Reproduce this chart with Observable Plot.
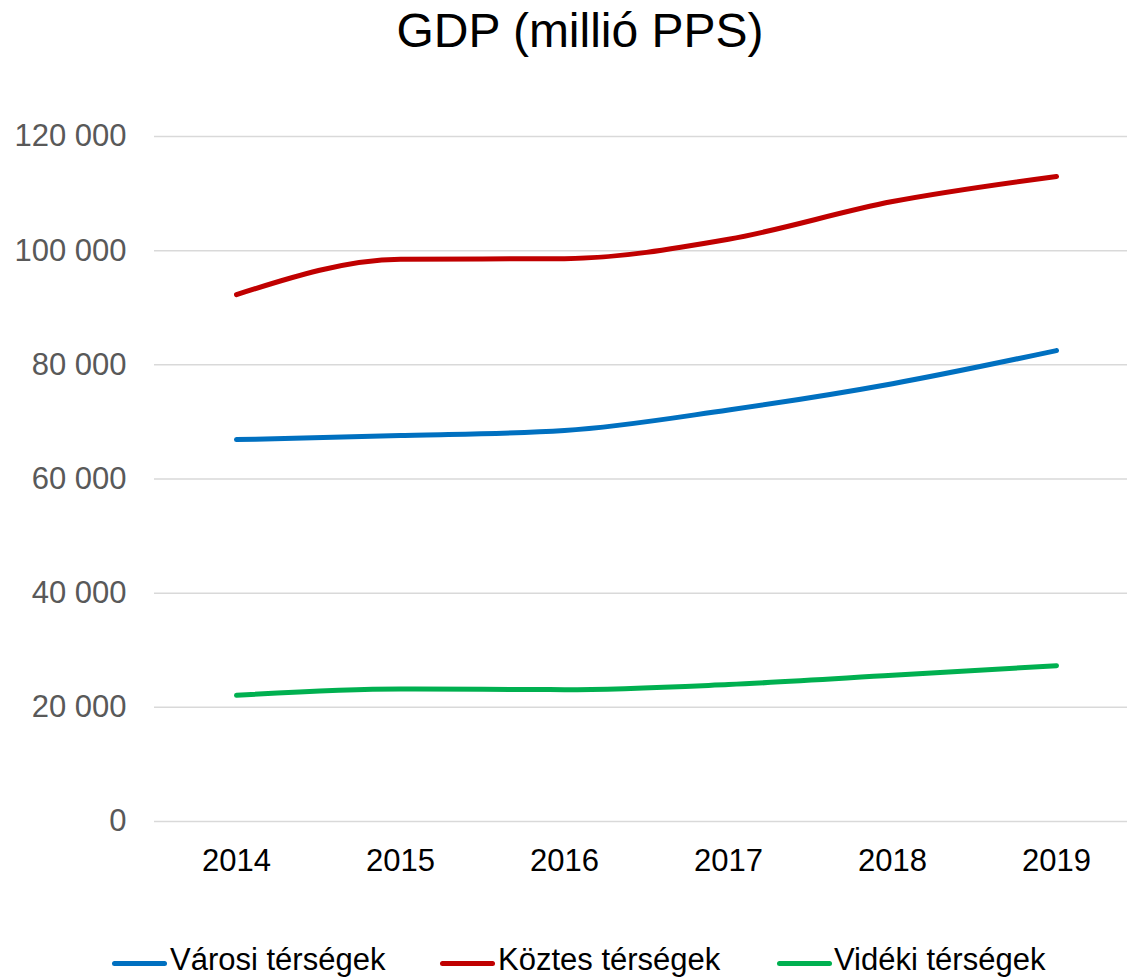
<!DOCTYPE html>
<html>
<head>
<meta charset="utf-8">
<script src="https://cdn.jsdelivr.net/npm/d3@7"></script>
<script src="https://cdn.jsdelivr.net/npm/@observablehq/plot@0.6"></script>
<style>
  html, body { margin: 0; padding: 0; background: #fff; }
  body { width: 1127px; height: 980px; position: relative; overflow: hidden; font-family: "Liberation Sans", Arial, sans-serif; }
  #title { position: absolute; left: 0; top: 7px; width: 1127px; text-align: center; padding-left: 33px; box-sizing: border-box; font-size: 48px; line-height: 47px; color: #000; }
  #chart { position: absolute; left: 0; top: 90px; }
  .leg { position: absolute; top: 940px; font-size: 31px; line-height: 40px; color: #000; white-space: nowrap; }
  .sw { position: absolute; height: 5px; border-radius: 3px; top: 961px; }
</style>
</head>
<body>
<div id="title">GDP (millió PPS)</div>
<div id="chart"></div>
<div id="legend"></div>
<script>
const years = ["2014", "2015", "2016", "2017", "2018", "2019"];
const seriesNames = ["Városi térségek", "Köztes térségek", "Vidéki térségek"];
const varosi = [66900, 67600, 68500, 72100, 76700, 82500];
const koztes = [92300, 98500, 98600, 102000, 108600, 113000];
const videki = [22100, 23200, 23100, 24000, 25600, 27300];
const colors = ["#0070C0", "#C00000", "#00B050"];
const yTicks = [0, 20000, 40000, 60000, 80000, 100000, 120000];

const allSeries = [varosi, koztes, videki];
const data = [];
seriesNames.forEach((name, si) => {
  years.forEach((yr, i) => data.push({ year: yr, value: allSeries[si][i], series: name }));
});

const fmt = d => d3.format(",")(d).replace(/,/g, " ");

const chart = Plot.plot({
  width: 1127,
  height: 810,
  marginLeft: 154,
  marginRight: 0,
  marginTop: 46,
  marginBottom: 79,
  style: { fontFamily: "Liberation Sans, Arial, sans-serif", background: "#fff" },
  x: { type: "point", domain: years, range: [236, 1056], padding: 0, label: null },
  y: { domain: [0, 120000], ticks: yTicks, label: null },
  color: { domain: seriesNames, range: colors },
  marks: [
    Plot.ruleY(yTicks, { stroke: "#d9d9d9", strokeWidth: 1.5 }),
    Plot.axisY({ ticks: yTicks, tickSize: 0, tickPadding: 28, tickFormat: fmt, fontSize: 31, fill: "#595959", label: null }),
    Plot.axisX({ tickSize: 0, tickPadding: 27, fontSize: 31, fill: "#000", label: null }),
    Plot.line(data, { x: "year", y: "value", z: "series", stroke: "series", strokeWidth: 5, curve: "monotone-x", strokeLinecap: "round", strokeLinejoin: "round" })
  ]
});
document.getElementById("chart").appendChild(chart);

const legend = document.getElementById("legend");
const swX = [112, 440, 777];
const txtX = [170, 498, 834];
seriesNames.forEach((name, i) => {
  const sw = document.createElement("div");
  sw.className = "sw";
  sw.style.left = swX[i] + "px";
  sw.style.width = "55px";
  sw.style.background = colors[i];
  legend.appendChild(sw);
  const t = document.createElement("div");
  t.className = "leg";
  t.style.left = txtX[i] + "px";
  t.textContent = name;
  legend.appendChild(t);
});
</script>
</body>
</html>
